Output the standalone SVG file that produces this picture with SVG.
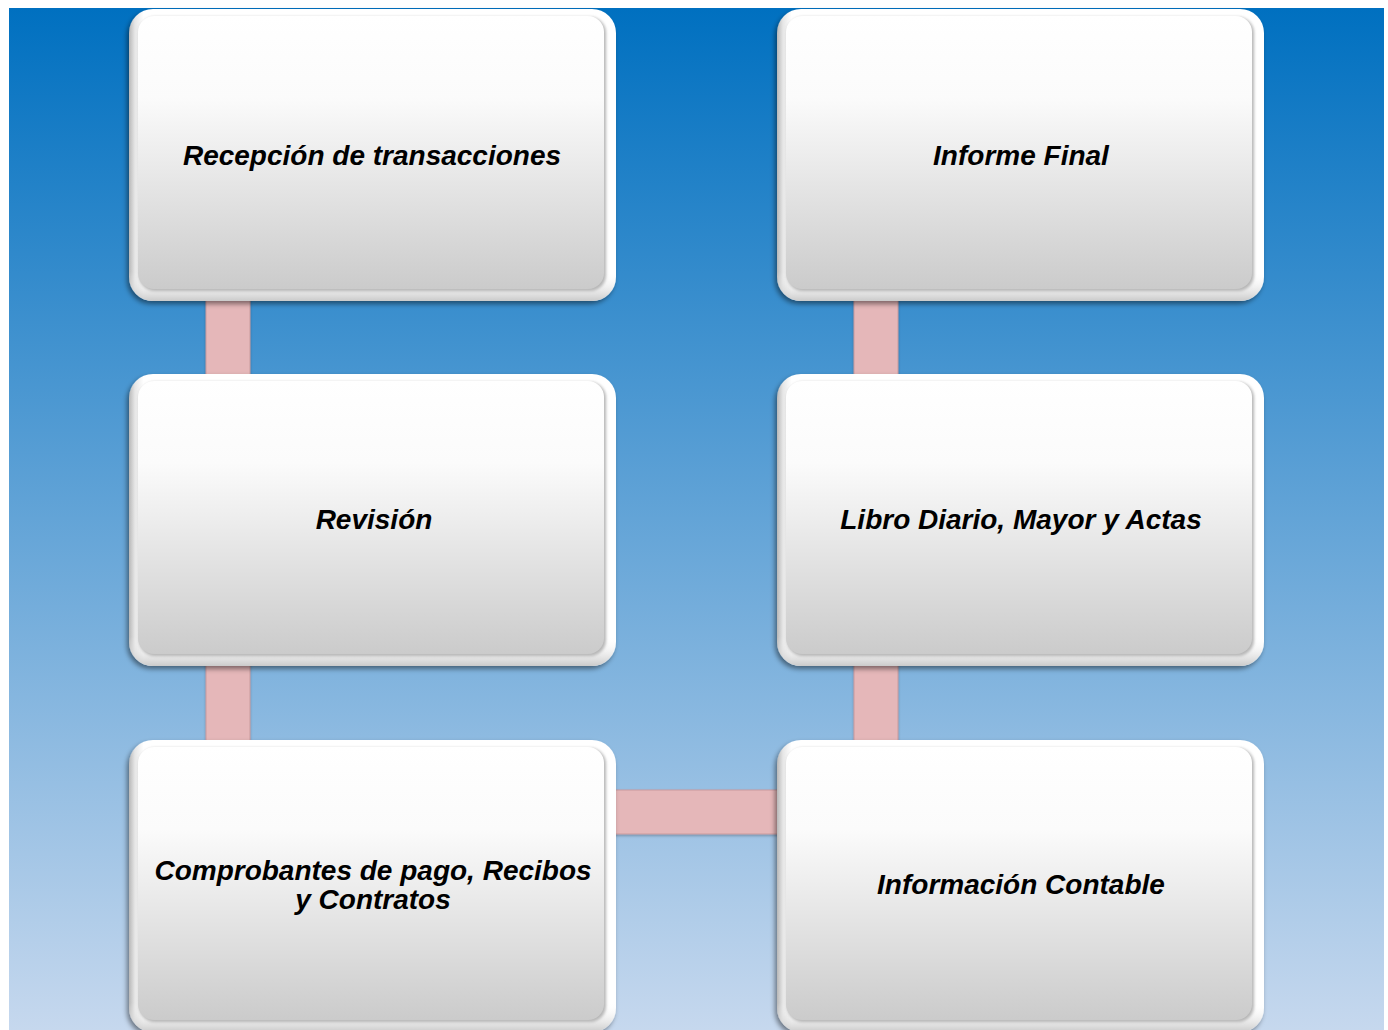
<svg xmlns="http://www.w3.org/2000/svg" xmlns:xlink="http://www.w3.org/1999/xlink" width="1388" height="1030" viewBox="0 0 1388 1030">
<style>
.lbl{font-family:"Liberation Sans",Arial,sans-serif;font-weight:bold;font-style:italic;font-size:28px;fill:#000;text-anchor:middle}
.con{fill:#e5b7b9;stroke:#c99a9d;stroke-width:1}
</style>
<defs>
<linearGradient id="bg" x1="0" y1="0" x2="0" y2="1">
<stop offset="0" stop-color="#0070c0"/>
<stop offset="1" stop-color="#c6d8ee"/>
</linearGradient>
<linearGradient id="face" x1="0" y1="0" x2="0" y2="1">
<stop offset="0" stop-color="#ffffff"/>
<stop offset="0.3" stop-color="#fbfbfb"/>
<stop offset="1" stop-color="#cbcbcb"/>
</linearGradient>
<linearGradient id="rim" x1="0" y1="0" x2="1" y2="0">
<stop offset="0" stop-color="#b8b8b8"/>
<stop offset="0.012" stop-color="#e6e6e6"/>
<stop offset="0.03" stop-color="#ffffff"/>
<stop offset="1" stop-color="#ffffff"/>
</linearGradient>
<linearGradient id="rimv" x1="0" y1="0" x2="0" y2="1">
<stop offset="0" stop-color="#ffffff" stop-opacity="0"/>
<stop offset="0.9" stop-color="#ffffff" stop-opacity="0"/>
<stop offset="1" stop-color="#bdbdbd" stop-opacity="0.8"/>
</linearGradient>
<filter id="sh" x="-5%" y="-5%" width="110%" height="112%">
<feDropShadow dx="-2" dy="3" stdDeviation="2.5" flood-color="#000" flood-opacity="0.45"/>
</filter>
<filter id="bev" x="-5%" y="-5%" width="110%" height="110%">
<feGaussianBlur stdDeviation="1.5"/>
</filter>
<filter id="csh" x="-10%" y="-10%" width="120%" height="130%">
<feDropShadow dx="0" dy="1.5" stdDeviation="1" flood-color="#000" flood-opacity="0.25"/>
</filter>
<g id="box">
<rect x="0" y="0" width="487" height="292" rx="24" fill="url(#rim)" filter="url(#sh)"/>
<rect x="0" y="0" width="487" height="292" rx="24" fill="url(#rimv)"/>
<rect x="10" y="8" width="467" height="274" rx="16" fill="#b5b5b5" filter="url(#bev)"/>
<rect x="9" y="7" width="466" height="273" rx="16" fill="url(#face)"/>
</g>
</defs>
<rect x="9" y="8" width="1375" height="1022" fill="url(#bg)"/>
<g id="connectors">
<rect class="con" x="206" y="296" width="44" height="82" filter="url(#csh)"/>
<rect class="con" x="206" y="661" width="44" height="83" filter="url(#csh)"/>
<rect class="con" x="854" y="296" width="44" height="82" filter="url(#csh)"/>
<rect class="con" x="854" y="661" width="44" height="83" filter="url(#csh)"/>
<rect class="con" x="610" y="790" width="172" height="44" filter="url(#csh)"/>
</g>
<g id="n1" transform="translate(129,9)"><use xlink:href="#box"/><text class="lbl" x="243" y="156">Recepción de transacciones</text></g>
<g id="n2" transform="translate(129,374)"><use xlink:href="#box"/><text class="lbl" x="245" y="155">Revisión</text></g>
<g id="n3" transform="translate(129,740)"><use xlink:href="#box"/><text class="lbl" x="244" y="140">Comprobantes de pago, Recibos</text><text class="lbl" x="244" y="169">y Contratos</text></g>
<g id="n4" transform="translate(777,740)"><use xlink:href="#box"/><text class="lbl" x="244" y="154">Información Contable</text></g>
<g id="n5" transform="translate(777,374)"><use xlink:href="#box"/><text class="lbl" x="244" y="155">Libro Diario, Mayor y Actas</text></g>
<g id="n6" transform="translate(777,9)"><use xlink:href="#box"/><text class="lbl" x="244" y="156">Informe Final</text></g>
</svg>
